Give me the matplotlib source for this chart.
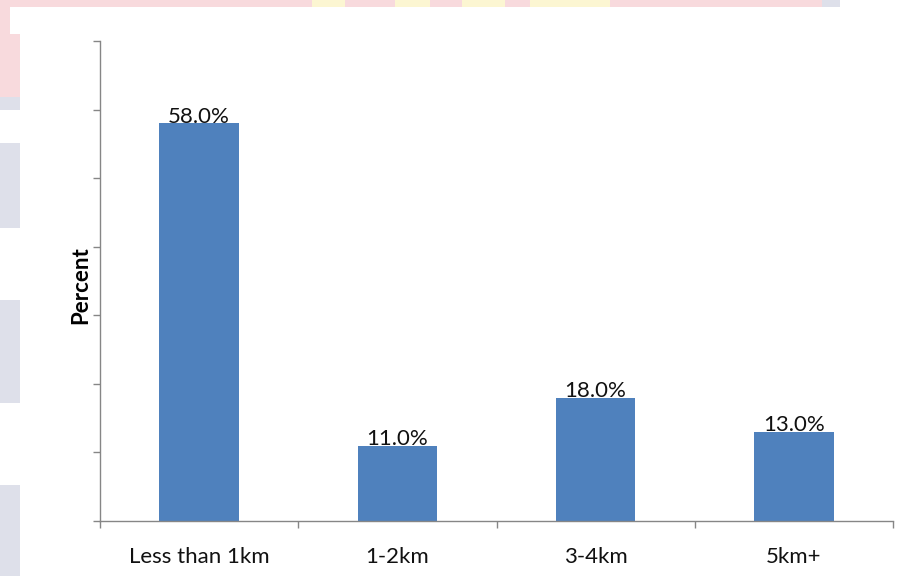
import numpy as np
import matplotlib
matplotlib.use("Agg")
from matplotlib import pyplot as plt
from matplotlib.patches import Rectangle

categories = ["Less than 1km", "1-2km", "3-4km", "5km+"]
percent = [58.0, 11.0, 18.0, 13.0]

W, H = 913, 576
bar_color = "#4F81BD"
axis_color = "#868686"

plt.rcParams['font.family'] = ['Lato', 'DejaVu Sans']

fig = plt.figure(figsize=(W / 100, H / 100), dpi=100)
fig.patch.set_facecolor("white")


def px_rect(x0, y0, x1, y1, color, alpha=1.0):
    # rectangle given in pixel coords measured from the top-left corner
    fig.patches.append(Rectangle((x0 / W, 1 - y1 / H), (x1 - x0) / W, (y1 - y0) / H,
                                 transform=fig.transFigure, color=color, alpha=alpha,
                                 lw=0, zorder=0))


# faded banner behind the chart panel
pink = "#F8DADD"
grey = "#DEE0EA"
yellow = "#FCF6D2"
px_rect(0, 0, 822, 7, pink)
for x0, x1 in [(312, 345), (395, 430), (462, 505), (530, 610)]:
    px_rect(x0, 0, x1, 7, yellow)
px_rect(822, 0, 840, 7, grey)
px_rect(0, 7, 10, 34, pink)
px_rect(0, 34, 20, 97, pink)
px_rect(0, 97, 20, 110, grey)
px_rect(0, 143, 20, 228, grey)
px_rect(0, 300, 20, 403, grey)
px_rect(0, 485, 20, 576, grey)

ax = fig.add_axes([100 / W, 1 - 521 / H, 793 / W, 480 / H])
ax.set_facecolor("none")

x = np.arange(len(categories))
bars = ax.bar(x, percent, width=0.4, color=bar_color, zorder=2)

for xi, v in zip(x, percent):
    ax.annotate(f"{v:.1f}%", (xi, v), xytext=(0, -2.5), textcoords="offset points",
                ha="center", va="bottom", fontsize=16, color="#111111", zorder=1)

ax.set_xlim(-0.5, len(categories) - 0.5)
ax.set_ylim(0, 70)
ax.set_yticks(np.arange(0, 71, 10))
ax.set_yticklabels([])

# ticks sit on category boundaries, labels on the centres
ax.set_xticks(np.arange(-0.5, len(categories), 1.0))
ax.set_xticklabels([])
ax.set_xticks(x, minor=True)
ax.set_xticklabels(categories, minor=True, fontsize=16, color="#111111")
ax.tick_params(axis="x", which="minor", length=0, pad=19)
ax.tick_params(axis="both", which="major", direction="out", length=5, color=axis_color, width=1)

for side in ["top", "right"]:
    ax.spines[side].set_visible(False)
for side in ["left", "bottom"]:
    ax.spines[side].set_color(axis_color)
    ax.spines[side].set_linewidth(1)

ax.set_ylabel("Percent", fontsize=16, fontweight="bold")
ax.yaxis.set_label_coords(-9 / 793, (521 - 285) / 480)

fig.savefig("out.png", dpi=100, facecolor=fig.get_facecolor())
